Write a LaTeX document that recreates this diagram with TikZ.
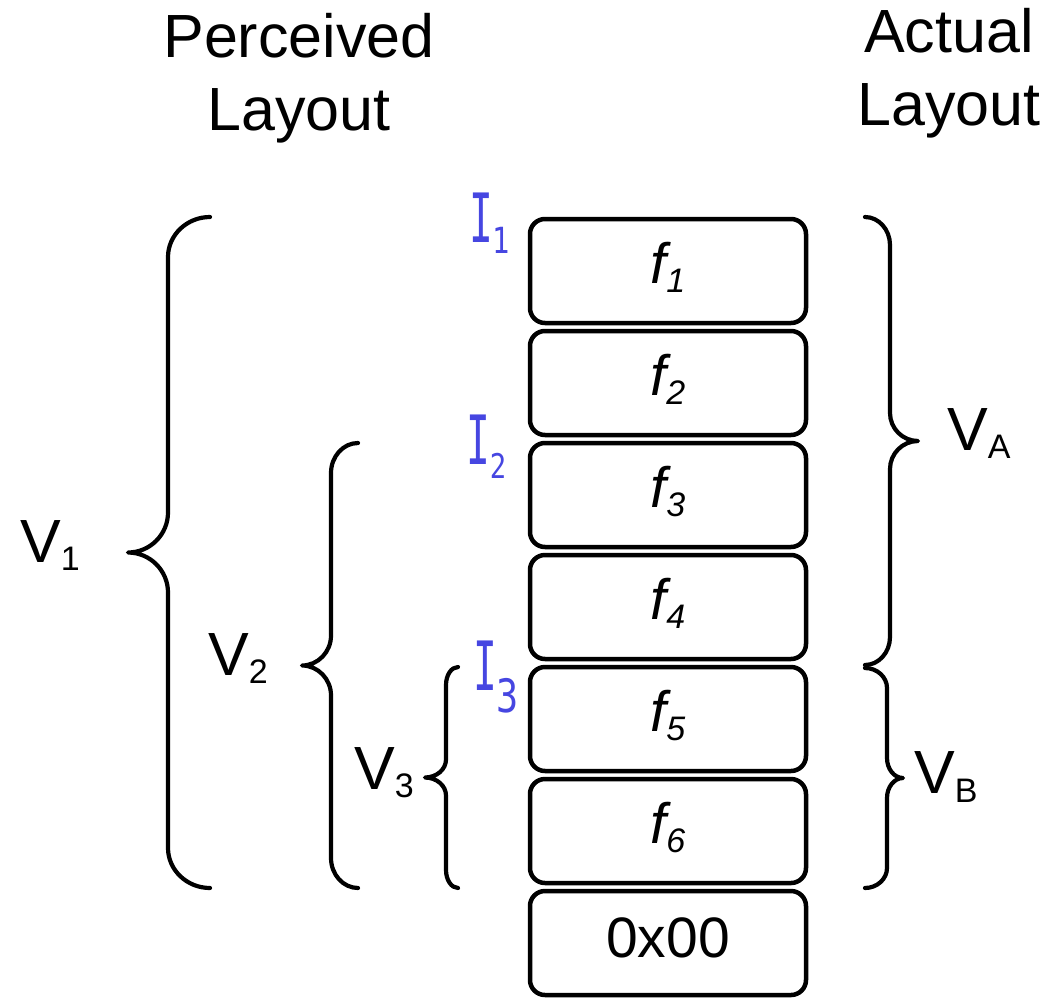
\documentclass[tikz,border=0pt]{standalone}
\usepackage{fontspec}
\setmainfont{Liberation Sans}
\newfontfamily\ifont[FakeStretch=0.8]{DejaVu Sans Mono}
\newfontfamily\ifontI[FakeStretch=0.58]{DejaVu Sans Mono}
\definecolor{iblue}{RGB}{70,70,225}
\newcommand\mysub[2]{\raisebox{-#1pt}{\fontsize{34}{34}\selectfont #2}}
\newcommand\isub[3]{\raisebox{-#1pt}{\ifont\fontsize{#2}{#2}\selectfont #3}}
% #1 tip x, #2 line x, #3 cusp x, #4 top y, #5 bottom y, #6 radius
\newcommand\mybrace[6]{%
  \draw[bracestyle] (#1,#4) .. controls ({#1-0.55*(#1-#2)},#4) and (#2,{#4+0.45*#6}) .. (#2,{#4+#6})
    -- (#2,{(#4+#5)/2-#6})
    .. controls (#2,{(#4+#5)/2-0.45*#6}) and ({#3-0.55*(#3-#2)},{(#4+#5)/2}) .. (#3,{(#4+#5)/2})
    .. controls ({#3-0.55*(#3-#2)},{(#4+#5)/2}) and (#2,{(#4+#5)/2+0.45*#6}) .. (#2,{(#4+#5)/2+#6})
    -- (#2,{#5-#6})
    .. controls (#2,{#5-0.45*#6}) and ({#1-0.55*(#1-#2)},#5) .. (#1,#5);}
\begin{document}
\begin{tikzpicture}[x=1pt,y=-1pt,
  cell/.style={draw, rounded corners=15pt, minimum width=276pt, minimum height=104pt, inner sep=0pt, line width=4.5pt},
  lbl/.style={inner sep=0pt, font=\fontsize{61}{73}\selectfont},
  celltext/.style={inner sep=0pt, anchor=base, font=\fontsize{57}{60}\selectfont},
  ilbl/.style={inner sep=0pt, anchor=base west, text=iblue, font=\ifontI\fontsize{68}{68}\selectfont},
  bracestyle/.style={draw, line width=4.2pt, line cap=round, line join=round}]
\useasboundingbox (0,0) rectangle (1047,1002);
% titles
\node[lbl, align=center, anchor=north] (perc) at (299,13) {Perceived\\Layout};
\node[lbl, align=center, anchor=north] (act) at (949,8) {Actual\\Layout};
% boxes
\foreach \i/\y in {1/271,2/383,3/495,4/607,5/719,6/831,7/943}{
  \node[cell] (b\i) at (668,\y) {};
}
\foreach \i in {1,...,6}{
  \node[celltext] (t\i) at ([yshift=-12pt]b\i.center) {\itshape f\mysub{9}{\i}};
}
\node[celltext] (t7) at ([yshift=-14pt]b7.center) {0x00};
% I labels
\node[ilbl] (i1) at (469,242) {I\isub{11}{36}{1}};
\node[ilbl] (i2) at (466,464) {I\isub{14}{34}{2}};
\node[ilbl] (i3) at (473,690) {I\isub{22}{46}{3}};
% braces
\mybrace{210}{168}{128}{217}{888}{40}
\mybrace{358}{331}{302}{443}{888}{30}
\mybrace{458}{446}{425}{667}{888}{18}
\mybrace{865}{890}{918}{217}{665}{28}
\mybrace{865}{887}{903}{668}{888}{20}
% V labels
\node[lbl, anchor=base west] (v1) at (20,562) {V\mysub{8}{1}};
\node[lbl, anchor=base west] (v2) at (208,675) {V\mysub{8}{2}};
\node[lbl, anchor=base west] (v3) at (354,789) {V\mysub{8}{3}};
\node[lbl, anchor=base west] (va) at (947,450) {V\mysub{8}{A}};
\node[lbl, anchor=base west] (vb) at (914,793) {V\mysub{9}{B}};
\end{tikzpicture}
\end{document}
